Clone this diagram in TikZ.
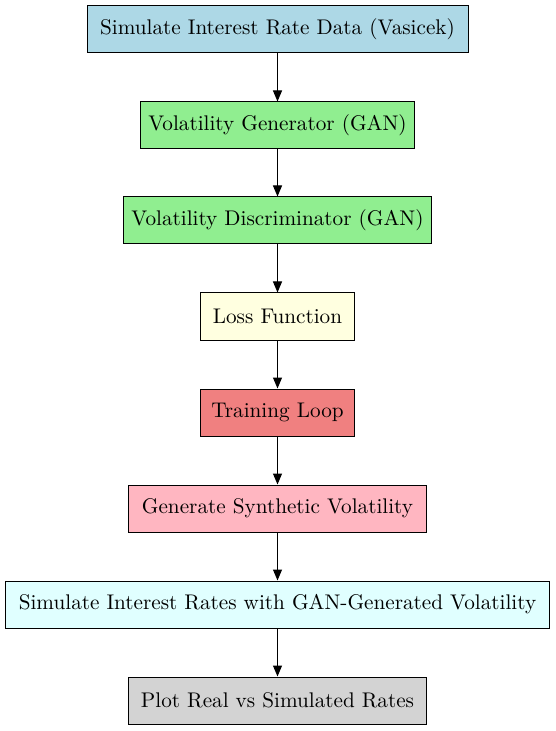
\documentclass[tikz,border=0pt]{standalone}
\usepackage{tikz}
\usetikzlibrary{arrows.meta}
\definecolor{boxblue}{RGB}{173,216,230}
\definecolor{boxgreen}{RGB}{144,238,144}
\definecolor{boxyellow}{RGB}{255,255,224}
\definecolor{boxcoral}{RGB}{240,128,128}
\definecolor{boxpink}{RGB}{255,182,193}
\definecolor{boxcyan}{RGB}{224,255,255}
\definecolor{boxgray}{RGB}{211,211,211}
\tikzset{
  stepbox/.style={draw=black, line width=0.5pt, rectangle, minimum height=23.5pt, inner sep=0pt,
    font=\fontsize{10.6}{12.5}\selectfont},
  flow/.style={-{Triangle[length=5.5pt,width=4.5pt]}, line width=0.5pt}
}

\begin{document}
\begin{tikzpicture}[x=0.5pt,y=-0.5pt]
			%%%%% START %%%%%
			
			\useasboundingbox (0, 0) rectangle (555, 731);
			
			\node[stepbox, fill=boxblue, minimum width=190.5pt] (simdata) at (277.5, 29.5) {Simulate Interest Rate Data (Vasicek)};
			\node[stepbox, fill=boxgreen, minimum width=137pt] (generator) at (277.5, 125.5) {Volatility Generator (GAN)};
			\node[stepbox, fill=boxgreen, minimum width=154pt] (discriminator) at (277.5, 220.5) {Volatility Discriminator (GAN)};
			\node[stepbox, fill=boxyellow, minimum width=77pt] (loss) at (277.5, 316.5) {Loss Function};
			\node[stepbox, fill=boxcoral, minimum width=77pt] (training) at (277.5, 412.5) {Training Loop};
			\node[stepbox, fill=boxpink, minimum width=149pt] (synthetic) at (277.5, 508.5) {Generate Synthetic Volatility};
			\node[stepbox, fill=boxcyan, minimum width=272pt] (simrates) at (277.5, 604.5) {Simulate Interest Rates with GAN-Generated Volatility};
			\node[stepbox, fill=boxgray, minimum width=149pt] (plot) at (277.5, 700.5) {Plot Real vs Simulated Rates};
			
			\draw[flow] (simdata) -- (generator);
			\draw[flow] (generator) -- (discriminator);
			\draw[flow] (discriminator) -- (loss);
			\draw[flow] (loss) -- (training);
			\draw[flow] (training) -- (synthetic);
			\draw[flow] (synthetic) -- (simrates);
			\draw[flow] (simrates) -- (plot);
			
			%%%%% END %%%%%
\end{tikzpicture}
\end{document}
